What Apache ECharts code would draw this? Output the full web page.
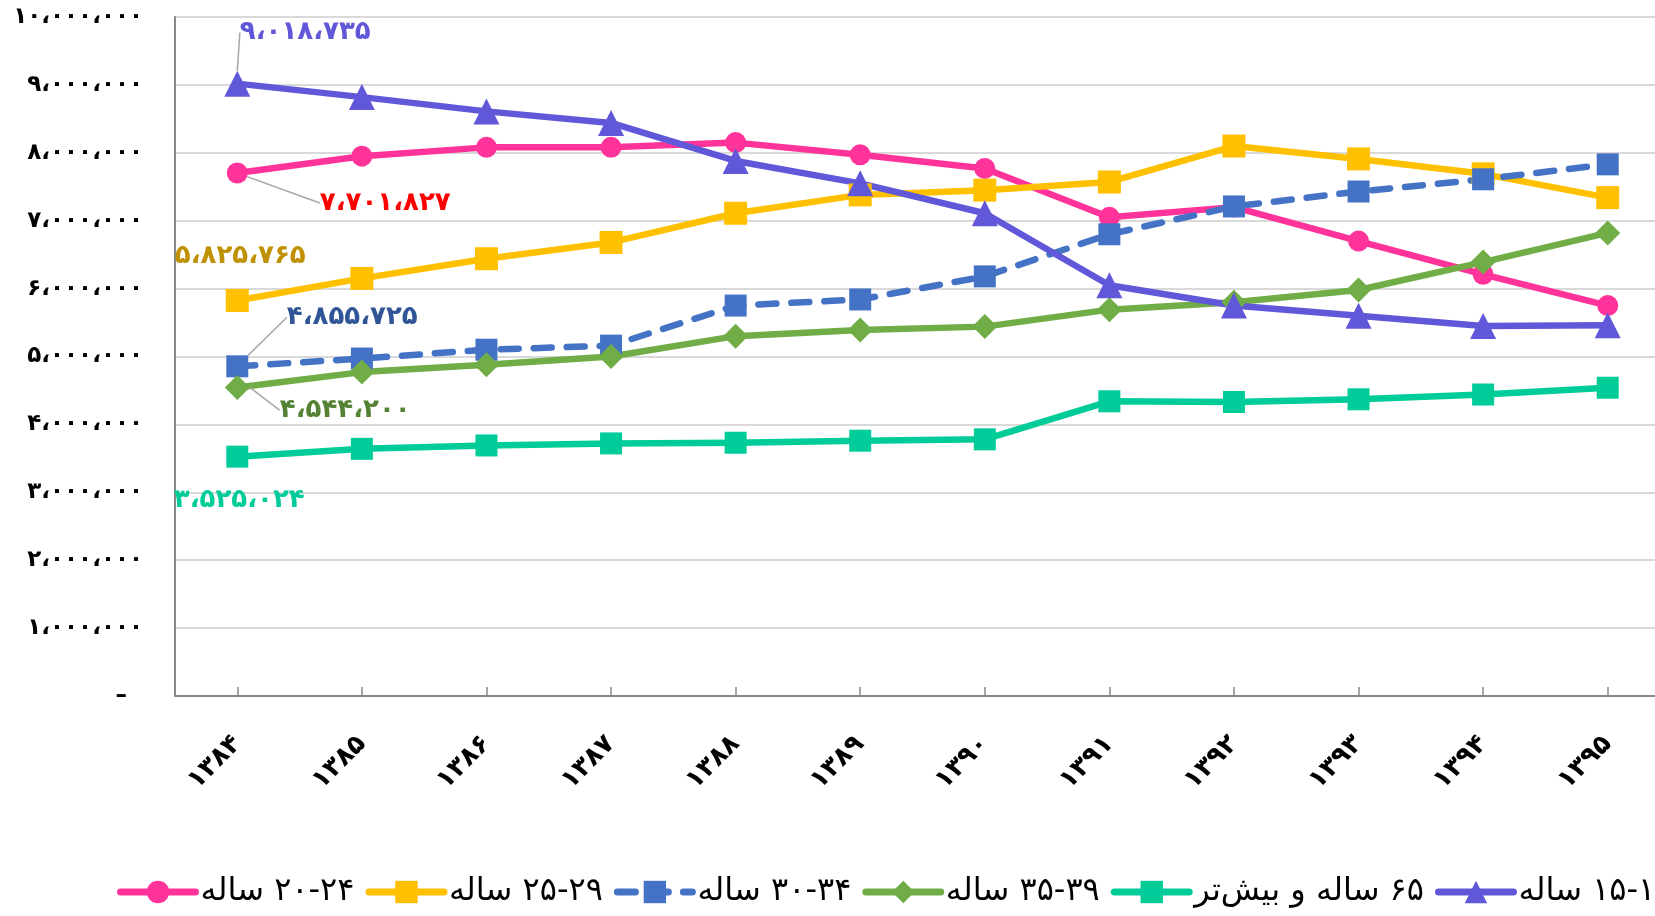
<!DOCTYPE html>
<html>
<head>
<meta charset="utf-8">
<script src="https://cdn.jsdelivr.net/npm/echarts@6/dist/echarts.min.js"></script>
<style>
html,body{margin:0;padding:0;background:#fff;overflow:hidden;}
#wrap{width:1655px;height:916px;overflow:hidden;position:relative;}
#chart{width:1670px;height:916px;}
</style>
</head>
<body>
<div id="wrap"><div id="chart"></div></div>
<script>
// ---- data ----
const categories = ['۱۳۸۴','۱۳۸۵','۱۳۸۶','۱۳۸۷','۱۳۸۸','۱۳۸۹','۱۳۹۰','۱۳۹۱','۱۳۹۲','۱۳۹۳','۱۳۹۴','۱۳۹۵'];
const seriesNames = ['۲۰-۲۴ ساله','۲۵-۲۹ ساله','۳۰-۳۴ ساله','۳۵-۳۹ ساله','۶۵ ساله و بیش‌تر','۱۵-۱۹ ساله'];
const v2024 = [7701827, 7950000, 8080000, 8080000, 8150000, 7970000, 7770000, 7050000, 7200000, 6700000, 6210000, 5750000];
const v2529 = [5825765, 6150000, 6440000, 6680000, 7110000, 7380000, 7450000, 7570000, 8100000, 7910000, 7690000, 7340000];
const v3034 = [4855725, 4970000, 5100000, 5160000, 5750000, 5840000, 6180000, 6800000, 7210000, 7430000, 7610000, 7830000];
const v3539 = [4544200, 4770000, 4880000, 5000000, 5300000, 5390000, 5440000, 5690000, 5800000, 5980000, 6390000, 6820000];
const v65   = [3525024, 3640000, 3690000, 3720000, 3730000, 3760000, 3780000, 4340000, 4330000, 4370000, 4440000, 4540000];
const v1519 = [9018735, 8820000, 8610000, 8440000, 7880000, 7550000, 7110000, 6050000, 5750000, 5600000, 5450000, 5460000];
const yMin = 0, yMax = 10000000, yStep = 1000000;

// ---- helpers ----
const FA = '۰۱۲۳۴۵۶۷۸۹';
function toFa(n){
  return Math.round(n).toString().replace(/\B(?=(\d{3})+(?!\d))/g, ',')
    .replace(/\d/g, d => FA[d]).replace(/,/g, '،');
}
const FONT = "'DejaVu Sans', sans-serif";

function mk(name, values, color, symbol, size, labelColor, dx, dy, guide, dashed){
  return {
    name: name,
    type: 'line',
    data: values.map((v, i) => i === 0 ? {value: v, label: {show: true}} : v),
    symbol: symbol,
    symbolSize: size,
    showAllSymbol: true,
    itemStyle: {color: color},
    lineStyle: {color: color, width: 6.5, type: dashed ? [18, 15] : 'solid', cap: dashed ? 'round' : 'butt', join: 'round'},
    label: {
      show: false,
      position: 'inside',
      formatter: p => toFa(p.value),
      color: labelColor,
      fontFamily: FONT,
      fontWeight: 'bold',
      fontSize: 26
    },
    labelLayout: {dx: dx, dy: dy},
    labelLine: {show: guide, lineStyle: {color: '#A6A6A6', width: 1.5}},
    emphasis: {disabled: true},
    animation: false
  };
}

const chart = echarts.init(document.getElementById('chart'), null, {renderer: 'canvas'});
chart.setOption({
  backgroundColor: '#ffffff',
  animation: false,
  grid: {left: 175, top: 17, right: 0, bottom: 220, containLabel: false},
  legend: {
    show: true,
    left: 112,
    top: 871,
    width: 3000,
    itemWidth: 75,
    itemHeight: 28,
    itemGap: 11,
    data: seriesNames,
    formatter: n => '\u200F' + n,
    textStyle: {fontFamily: FONT, fontSize: 32, color: '#000'},
    lineStyle: {width: 7, cap: 'round'}
  },
  xAxis: {
    type: 'category',
    data: categories,
    boundaryGap: true,
    axisLine: {show: true, lineStyle: {color: '#898989', width: 2}},
    axisTick: {show: true, inside: true, alignWithLabel: true, length: 9, lineStyle: {color: '#898989', width: 1.5}},
    axisLabel: {rotate: 45, margin: 44, fontFamily: FONT, fontSize: 26, fontWeight: 'bold', color: '#000', interval: 0},
    splitLine: {show: false}
  },
  yAxis: {
    type: 'value',
    min: yMin, max: yMax, interval: yStep,
    axisLine: {show: true, lineStyle: {color: '#898989', width: 2}},
    axisTick: {show: false},
    splitLine: {show: true, lineStyle: {color: '#D9D9D9', width: 2}},
    axisLabel: {
      margin: 32,
      fontFamily: FONT, fontSize: 23, fontWeight: 'bold', color: '#000',
      formatter: v => v === 0 ? '–  ' : toFa(v)
    }
  },
  series: [
    mk(seriesNames[0], v2024, '#FF3399', 'circle', 21, '#FF0000', 148, 30, true, false),
    mk(seriesNames[1], v2529, '#FFC000', 'rect', 23, '#BF9000', 3, -44, false, false),
    mk(seriesNames[2], v3034, '#4472C4', 'rect', 22, '#2F5597', 115, -49, true, true),
    mk(seriesNames[3], v3539, '#70AD47', 'diamond', 25, '#548235', 108, 23, true, false),
    mk(seriesNames[4], v65,   '#00CC99', 'rect', 22, '#00CC99', 2, 44, false, false),
    mk(seriesNames[5], v1519, '#6158D9', 'triangle', 26, '#6158D9', 68, -51, true, false)
  ]
});
</script>
</body>
</html>
